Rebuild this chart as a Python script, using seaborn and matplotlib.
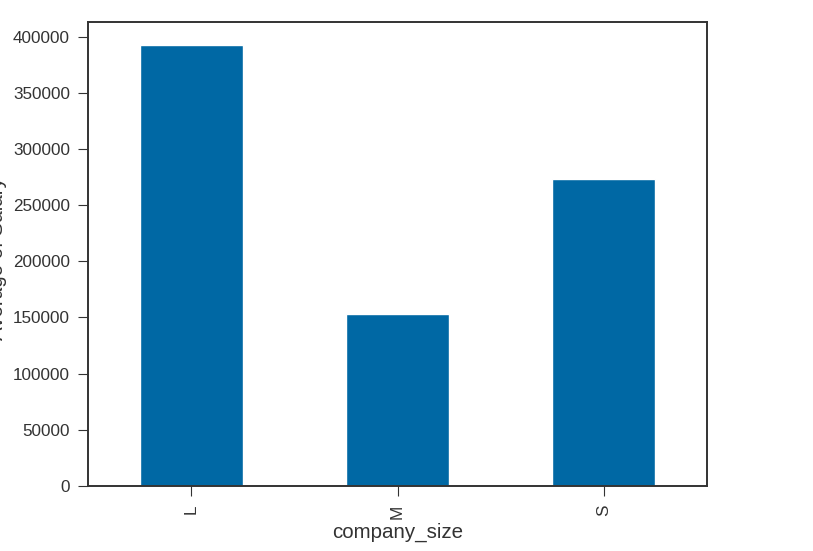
import pandas as pd
import matplotlib
matplotlib.use("Agg")
import matplotlib.pyplot as plt
import seaborn as sns

# average salary per company size
company_size = ["L", "M", "S"]
avg_salary = [392500, 152700, 273200]

df = pd.DataFrame({"company_size": company_size, "salary": avg_salary})

sns.set_style("ticks")
plt.rcParams['font.family'] = ['Liberation Sans', 'DejaVu Sans']
plt.rcParams['axes.edgecolor'] = '#333333'
plt.rcParams['xtick.color'] = '#333333'
plt.rcParams['ytick.color'] = '#333333'

fig = plt.figure(figsize=(8.13, 5.51), dpi=100)
ax = fig.add_axes([88 / 813, 1 - 486 / 551, 619 / 813, 464 / 551])

sns.barplot(data=df, x="company_size", y="salary", color="#0068a4",
            width=0.5, saturation=1, ax=ax)
ax.set_xlim(-0.5, 2.5)
ax.set_ylim(0, 413000)
ax.set_yticks(range(0, 400001, 50000))
ax.tick_params(axis='x', labelrotation=90, labelsize=12.3, colors='#333333',
               length=7.5, pad=6)
ax.tick_params(axis='y', labelsize=12.3, length=7, pad=6)
for s in ax.spines.values():
    s.set_linewidth(1.4)

ax.set_xlabel("company_size", fontsize=14.8, color='#333333', labelpad=3)
ax.set_ylabel("Average of Salary", fontsize=14.8, color='#333333')
# label sits mostly beyond the left edge, as in the original screenshot
ax.yaxis.set_label_coords(-0.131, 0.49)

fig.savefig("out.png", dpi=100)
